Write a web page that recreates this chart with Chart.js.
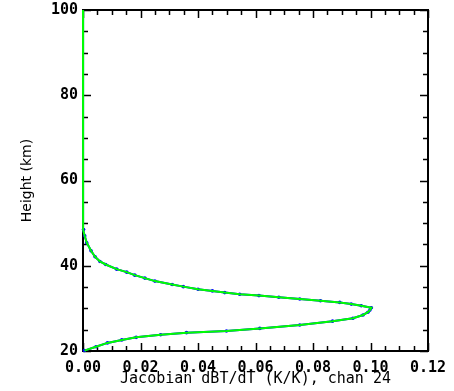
<!DOCTYPE html>
<html>
<head>
<meta charset="utf-8">
<script src="https://cdn.jsdelivr.net/npm/chart.js@4/dist/chart.umd.min.js"></script>
<style>
  body { margin: 0; background: #fff; }
  canvas { display: block; }
</style>
</head>
<body>
<canvas id="jacChart" width="454" height="391"></canvas>
<script>
// Profile levels (km) and temperature Jacobian for channel 24
var heights = [100, 90, 80, 70, 60, 50, 48.5, 47, 45.4, 43.5, 42.1, 41, 40.3, 39.2, 38.5, 37.8, 37.1, 36.4,
  35.6, 35.1, 34.5, 34.1, 33.7, 33.3, 33.0, 32.6, 32.2, 31.8, 31.4, 31.0, 30.6, 30.15, 29.6, 29.1, 28.45,
  27.7, 27.0, 26.1, 25.3, 24.7, 24.3, 23.8, 23.2, 22.6, 21.9, 21.0, 20.1];
var jacobian = [0, 0, 0, 0, 0, 0, 0.0002, 0.0006, 0.0013, 0.0028, 0.0042, 0.0059, 0.0079, 0.0117, 0.0152, 0.018,
  0.0215, 0.025, 0.031, 0.0349, 0.040, 0.045, 0.0493, 0.0545, 0.0612, 0.0681, 0.0754, 0.0826, 0.0893, 0.0933,
  0.0968, 0.1003, 0.0998, 0.0991, 0.0974, 0.0939, 0.0868, 0.0754, 0.0615, 0.0499, 0.036, 0.027, 0.0185,
  0.0135, 0.0085, 0.0045, 0.0005];

// Axis tick labels
var xTicks = [0.00, 0.02, 0.04, 0.06, 0.08, 0.10, 0.12];
var yTicks = [20, 40, 60, 80, 100];

var profile = heights.map(function (h, i) { return { x: jacobian[i], y: h }; });

// Frame with inward tick marks on all four sides (IDL style)
var frameTicks = {
  id: 'frameTicks',
  beforeDatasetsDraw: function (chart) {
    var ctx = chart.ctx, a = chart.chartArea;
    var xs = chart.scales.x, ys = chart.scales.y;
    ctx.save();
    ctx.strokeStyle = '#000';
    ctx.lineWidth = 2;
    ctx.strokeRect(a.left, a.top, a.right - a.left, a.bottom - a.top);
    ctx.beginPath();
    for (var i = 0; i <= 24; i++) {
      var px = Math.round(xs.getPixelForValue(i * 0.005)) + 0.5;
      var len = (i % 4 === 0) ? 8 : 5;
      ctx.moveTo(px, a.bottom); ctx.lineTo(px, a.bottom - len);
      ctx.moveTo(px, a.top); ctx.lineTo(px, a.top + len);
    }
    for (var j = 0; j <= 16; j++) {
      var py = Math.round(ys.getPixelForValue(20 + j * 5)) + 0.5;
      var l2 = (j % 4 === 0) ? 8 : 5;
      ctx.moveTo(a.left, py); ctx.lineTo(a.left + l2, py);
      ctx.moveTo(a.right, py); ctx.lineTo(a.right - l2, py);
    }
    ctx.lineWidth = 1.5;
    ctx.stroke();
    ctx.restore();
  }
};

var tickFont = { family: 'DejaVu Sans Mono', size: 15, weight: 'bold' };

var config = {
  type: 'scatter',
  data: {
    datasets: [{
      // green profile drawn on top
      data: profile,
      showLine: true,
      borderColor: '#00ff00',
      borderWidth: 2,
      pointRadius: 0,
      clip: false,
      order: 0
    }, {
      data: profile,
      showLine: true,
      borderColor: '#0000ff',
      backgroundColor: '#0000ff',
      borderWidth: 2,
      pointRadius: function (c) { return c.raw && c.raw.x > 0 ? 1.8 : 0; },
      pointBorderWidth: 0,
      clip: false,
      order: 1
    }]
  },
  options: {
    responsive: false,
    animation: false,
    layout: { padding: { top: 10, right: 26, bottom: 0, left: 0 } },
    plugins: { legend: { display: false }, tooltip: { enabled: false } },
    scales: {
      x: {
        type: 'linear',
        min: 0,
        max: 0.12,
        afterFit: function (s) { s.height = 40; s.paddingLeft = 0; s.paddingRight = 0; },
        afterBuildTicks: function (s) { s.ticks = xTicks.map(function (v) { return { value: v }; }); },
        grid: { display: false, drawTicks: false },
        border: { display: false },
        ticks: {
          padding: 8,
          color: '#000',
          maxRotation: 0,
          font: tickFont,
          callback: function (v) { return v.toFixed(2); }
        },
        title: {
          display: true,
          text: 'Jacobian dBT/dT (K/K), chan 24',
          color: '#000',
          padding: { top: 1 },
          font: { family: 'DejaVu Sans Mono', size: 15, lineHeight: 1 }
        }
      },
      y: {
        type: 'linear',
        min: 20,
        max: 100,
        afterFit: function (s) { s.width = 83; s.paddingTop = 0; s.paddingBottom = 0; },
        afterBuildTicks: function (s) { s.ticks = yTicks.map(function (v) { return { value: v }; }); },
        grid: { display: false, drawTicks: false },
        border: { display: false },
        ticks: {
          padding: 5,
          color: '#000',
          font: tickFont
        },
        title: {
          display: true,
          text: 'Height (km)',
          color: '#000',
          padding: { top: 19 },
          font: { family: 'DejaVu Sans', size: 14 }
        }
      }
    }
  },
  plugins: [frameTicks]
};

var myChart = new Chart(document.getElementById('jacChart'), config);
</script>
</body>
</html>
